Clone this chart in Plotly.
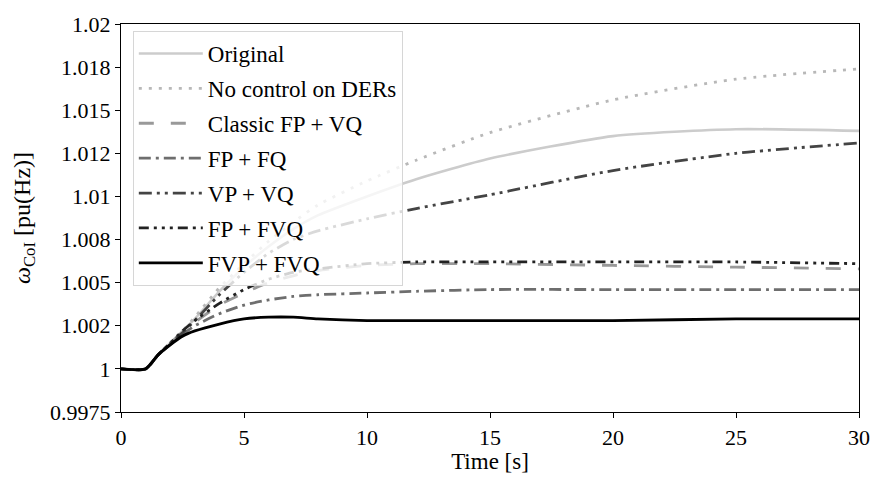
import plotly.graph_objects as go

# ---- data ----
t = [0, 1, 1.5, 2, 2.5, 3, 4, 5, 6, 7, 8, 10, 12, 15, 20, 25, 30]

original   = [1.0, 1.0, 1.0008, 1.0015, 1.0022, 1.0029, 1.0045, 1.0059, 1.0071, 1.0081, 1.0089, 1.0100, 1.0110, 1.0122, 1.0135, 1.0139, 1.0138]
no_control = [1.0, 1.0, 1.0008, 1.0015, 1.0022, 1.0030, 1.0047, 1.0061, 1.0074, 1.0085, 1.0095, 1.0109, 1.0121, 1.0137, 1.0156, 1.0168, 1.0174]
classic    = [1.0, 1.0, 1.0008, 1.0015, 1.0021, 1.0027, 1.0037, 1.0044, 1.0050, 1.0054, 1.0057, 1.0060, 1.0061, 1.0061, 1.0060, 1.0059, 1.0058]
fp_fq      = [1.0, 1.0, 1.0008, 1.0014, 1.0020, 1.0025, 1.0032, 1.0037, 1.0040, 1.0042, 1.0043, 1.0044, 1.0045, 1.0046, 1.0046, 1.0046, 1.0046]
vp_vq      = [1.0, 1.0, 1.0008, 1.0015, 1.0021, 1.0028, 1.0043, 1.0056, 1.0067, 1.0075, 1.0080, 1.0087, 1.0093, 1.0101, 1.0115, 1.0125, 1.0131]
fp_fvq     = [1.0, 1.0, 1.0008, 1.0015, 1.0022, 1.0028, 1.0038, 1.0046, 1.0052, 1.0056, 1.0058, 1.0061, 1.0062, 1.0062, 1.0062, 1.0062, 1.0061]
fvp_fvq    = [1.0, 1.0, 1.0008, 1.0014, 1.0019, 1.0022, 1.0026, 1.0029, 1.0030, 1.0030, 1.0029, 1.0028, 1.0028, 1.0028, 1.0028, 1.0029, 1.0029]

names = ["Original", "No control on DERs", "Classic FP + VQ", "FP + FQ",
         "VP + VQ", "FP + FVQ", "FVP + FVQ"]
series = [original, no_control, classic, fp_fq, vp_vq, fp_fvq, fvp_fvq]

y_tickvals = [0.9975, 1.0, 1.0025, 1.005, 1.0075, 1.01, 1.0125, 1.015, 1.0175, 1.02]
y_ticktext = ["0.9975", "1", "1.002", "1.005", "1.008", "1.01", "1.012", "1.015", "1.018", "1.02"]
x_tickvals = [0, 5, 10, 15, 20, 25, 30]

# ---- styles ----
colors = ["#cccccc", "#b8b8b8", "#999999", "#6e6e6e", "#444444", "#222222", "#000000"]
dashes = ["solid", "3px,7px", "15px,17px", "12px,5px,3px,5px",
          "13px,5px,3px,5px,3px,5px", "10px,5px,3px,5px,3px,5px,3px,5px", "solid"]
widths = [2.6, 2.8, 2.8, 2.8, 2.8, 2.8, 2.9]

FONT = "Liberation Serif"

fig = go.Figure()
for i, (nm, ys) in enumerate(zip(names, series)):
    fig.add_trace(go.Scatter(
        x=t, y=ys, mode="lines", name=nm, legendgroup=f"g{i}",
        line=dict(color=colors[i], dash=dashes[i], width=widths[i], shape="spline", smoothing=0.6),
    ))

fig.update_layout(
    width=882, height=484,
    margin=dict(l=121, r=15, t=13, b=72),
    paper_bgcolor="white", plot_bgcolor="white",
    font=dict(family=FONT, size=22, color="black"),
    showlegend=True,
    legend=dict(
        x=0.016, y=0.982, xanchor="left", yanchor="top",
        bgcolor="rgba(255,255,255,0.8)", bordercolor="#d6d6d6", borderwidth=1,
        font=dict(family=FONT, size=23, color="black"),
        tracegroupgap=2, itemwidth=64,
    ),
    xaxis=dict(
        range=[0, 30], tickvals=x_tickvals, ticks="outside", ticklen=5, tickwidth=1,
        tickcolor="black", showline=True, linecolor="black", linewidth=1.2,
        mirror=True, showgrid=False, zeroline=False,
        tickfont=dict(family=FONT, size=22),
        title=dict(text="Time [s]", standoff=4, font=dict(family=FONT, size=23)),
    ),
    yaxis=dict(
        range=[0.9975, 1.02], tickvals=y_tickvals, ticktext=y_ticktext,
        ticks="outside", ticklen=5, tickwidth=1, tickcolor="black",
        showline=True, linecolor="black", linewidth=1.2, mirror=True,
        showgrid=False, zeroline=False,
        tickfont=dict(family=FONT, size=22),
        title=dict(text="<i>ω</i><sub>CoI</sub> [pu(Hz)]", standoff=12,
                   font=dict(family=FONT, size=24)),
    ),
)

fig.write_html("out.html")
